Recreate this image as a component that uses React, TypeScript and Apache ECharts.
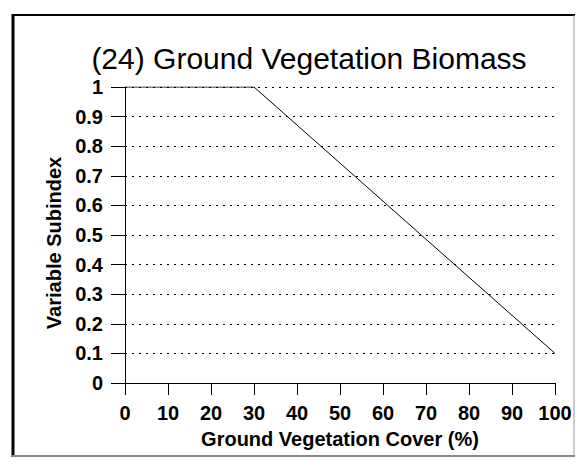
import React, { useEffect, useRef } from "react";
import * as echarts from "echarts";

const titleText = "(24) Ground Vegetation Biomass";
const xAxisName = "Ground Vegetation Cover (%)";
const yAxisName = "Variable Subindex";
const coverValues = [0, 30, 100];
const subindexValues = [1, 1, 0.1];

const FONT = "'Liberation Sans', Arial, Helvetica, sans-serif";

export default function App() {
  const ref = useRef<HTMLDivElement>(null);
  useEffect(() => {
    if (!ref.current) return;
    const chart = echarts.init(ref.current, null, { renderer: "svg" });
    const data = coverValues.map((x, i) => [x, subindexValues[i]]);
    chart.setOption({
      animation: false,
      backgroundColor: "#ffffff",
      title: {
        text: titleText,
        left: 304,
        textAlign: "center",
        top: 38,
        textStyle: { fontFamily: FONT, fontSize: 30, fontWeight: "normal", color: "#000" },
      },
      grid: { left: 125, right: 25, top: 87, bottom: 88, containLabel: false },
      xAxis: {
        type: "value",
        min: 0,
        max: 100,
        interval: 10,
        name: xAxisName,
        nameLocation: "middle",
        nameGap: 46,
        nameTextStyle: { fontFamily: FONT, fontSize: 20, color: "#000", fontWeight: "bold" },
        axisLine: { show: true, lineStyle: { color: "#000", width: 1 } },
        axisTick: { show: true, inside: false, length: 12, lineStyle: { color: "#000", width: 1 } },
        axisLabel: { margin: 20, fontFamily: FONT, fontSize: 20, fontWeight: "bold", color: "#000" },
        splitLine: { show: false },
      },
      yAxis: {
        type: "value",
        min: 0,
        max: 1,
        interval: 0.1,
        name: yAxisName,
        nameLocation: "middle",
        nameGap: 58,
        nameRotate: 90,
        nameTextStyle: {
          fontFamily: FONT,
          fontSize: 20,
          color: "#000",
          fontWeight: "bold",
          padding: [0, 16, 0, 0],
        },
        axisLine: { show: true, lineStyle: { color: "#000", width: 1 } },
        axisTick: { show: true, inside: false, length: 14, lineStyle: { color: "#000", width: 1 } },
        axisLabel: { margin: 22, fontFamily: FONT, fontSize: 20, fontWeight: "bold", color: "#000" },
        splitLine: { show: true, lineStyle: { color: "#000", width: 1, type: [2, 5] } },
      },
      series: [
        {
          type: "line",
          data,
          symbol: "none",
          lineStyle: { color: "#000", width: 1 },
        },
      ],
      graphic: [
        { type: "line", shape: { x1: 13, y1: 14, x2: 13, y2: 457 }, style: { stroke: "#000", lineWidth: 3 } },
        { type: "line", shape: { x1: 12, y1: 15, x2: 575, y2: 15 }, style: { stroke: "#000", lineWidth: 2 } },
        { type: "line", shape: { x1: 574, y1: 15, x2: 574, y2: 456 }, style: { stroke: "#999", lineWidth: 1 } },
        { type: "line", shape: { x1: 12, y1: 456, x2: 575, y2: 456 }, style: { stroke: "#888", lineWidth: 2 } },
      ],
    });
    return () => chart.dispose();
  }, []);
  return (
    <div
      ref={ref}
      style={{ position: "fixed", left: 0, top: 0, width: 580, height: 471 }}
    />
  );
}
